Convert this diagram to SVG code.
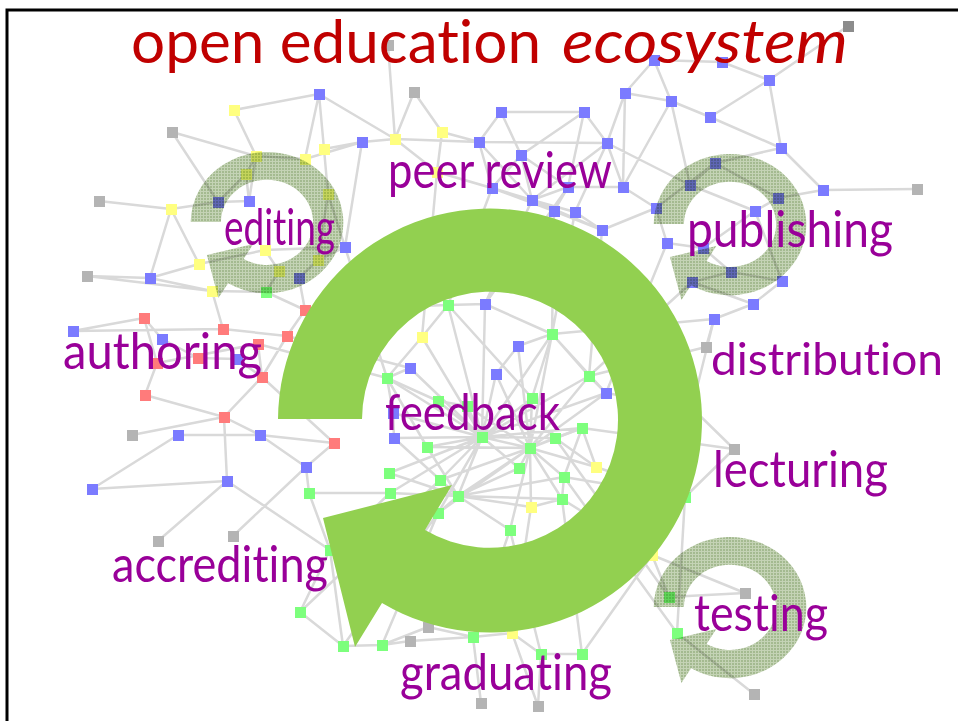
<svg xmlns="http://www.w3.org/2000/svg" width="958" height="721" viewBox="0 0 958 721">
<style>
.e{fill:none;stroke:#d9d9d9;stroke-width:2.5;stroke-linecap:round}
.g{fill:#b4b4b4}.gd{fill:#8c8c8c}.b{fill:#7b7bff}.y{fill:#ffff80}.r{fill:#ff7b7b}.n{fill:#7dff7d}
text{font-variant-ligatures:none;font-feature-settings:"liga" 0,"clig" 0}
.lbl{font-family:Lato,"DejaVu Sans",sans-serif;font-size:50px;fill:#990099}
.hatch{fill:url(#hp);mix-blend-mode:multiply}
</style>
<defs>
<pattern id="hp" width="3" height="3" patternUnits="userSpaceOnUse">
<rect width="3" height="3" fill="#c4d3b5"/>
<rect width="2" height="2" fill="#a4ba90"/>
</pattern>
</defs>
<rect width="958" height="721" fill="#fff"/>
<g id="connectors">
<path class="e" d="M172 132L256 156M172 132L218 202M234 110L256 156M234 110L319 94M319 94L324 149M319 94L305 159M319 94L395 139M256 156L305 159M256 156L246 174M256 156L249 201M305 159L362 142M324 149L362 142M324 149L328 194M362 142L395 139M395 139L479 142M479 142L607 143M388 45L395 139M414 92L442 132M414 92L395 139M442 132L437 172M442 132L479 142M501 112L584 112M501 112L479 142M584 112L607 143M584 112L521 155"/>
<path class="e" d="M625 93L671 101M625 93L623 187M671 101L623 187M654 60L625 93M654 60L671 101M654 60L722 62M722 62L769 80M769 80L781 148M671 101L710 117M710 117L781 148M769 80L710 117M848 26L769 80M607 143L623 187M623 187L656 208M623 187L568 187M521 155L492 188M521 155L532 200M492 188L532 200M568 187L532 200M568 187L554 211M532 200L575 212M554 211L602 230M575 212L602 230M607 143L690 185M690 185L715 163M715 163L781 148M781 148L823 190M823 190L917 189M823 190L778 198M778 198L755 211M715 163L656 208M656 208L667 243M667 243L703 248M755 211L703 248M703 248L731 272M731 272L782 281M731 272L692 282M692 282L753 304M782 281L753 304M753 304L714 319M714 319L706 347M755 211L782 281M671 101L690 185M479 142L492 188M437 172L492 188M362 142L345 247M395 139L437 172M584 112L568 187M607 143L575 212M625 93L607 143M501 112L521 155M690 185L755 211M656 208L602 230M715 163L778 198M492 188L554 211M532 200L602 230M521 155L568 187M479 142L532 200M437 172L532 200M607 143L532 200"/>
<path class="e" d="M99 201L171 209M171 209L218 202M218 202L249 201M249 201L246 174M171 209L199 264M87 276L150 278M150 278L199 264M150 278L212 291M199 264L265 250M265 250L345 247M265 250L279 271M279 271L266 292M318 260L299 278M318 260L328 194M345 247L328 194M345 247L318 260M212 291L266 292M212 291L223 329M266 292L305 310M299 278L305 310M73 331L223 329M223 329L287 336M144 318L157 363M144 318L162 339M162 339L198 358M157 363L145 395M157 363L258 344M198 358L237 359M237 359L262 377M258 344L262 377M262 377L224 417M145 395L224 417M132 435L224 417M178 435L260 435M260 435L224 417M260 435L334 443M224 417L227 481M227 481L92 489M92 489L178 435M227 481L158 541M233 536L306 467M227 481L330 550M287 336L305 310M287 336L262 377M262 377L334 443M334 443L306 467M306 467L309 493M306 467L260 435M309 493L390 493M309 493L330 550M73 331L144 318M87 276L212 291M150 278L171 209M246 174L218 202M305 310L448 305M287 336L410 368M258 344L387 378"/>
<path class="e" d="M482 437L448 305M482 437L485 304M482 437L422 337M482 437L410 368M482 437L387 378M482 437L438 401M482 437L467 406M482 437L532 398M482 437L496 374M482 437L427 447M482 437L389 473M482 437L440 480M482 437L390 493M482 437L458 496M482 437L438 513M482 437L519 468M482 437L530 448M482 437L555 438M482 437L589 376M482 437L552 334M482 437L393 413M482 437L394 438M482 437L606 393M482 437L582 428M530 448L552 334M530 448L518 346M530 448L496 374M530 448L589 376M530 448L606 393M530 448L582 428M530 448L555 438M530 448L564 477M530 448L562 499M530 448L596 467M530 448L531 507M530 448L510 530M530 448L519 468M530 448L532 398M530 448L467 406M530 448L440 480M530 448L458 496M530 448L438 513M530 448L427 447"/>
<path class="e" d="M458 496L389 473M458 496L390 493M458 496L427 447M458 496L438 513M458 496L510 530M458 496L519 468M458 496L564 477M458 496L562 499M458 496L531 507M458 496L440 480M458 496L394 438M387 378L410 368M387 378L393 413M387 378L438 401M387 378L422 337M387 378L427 447M448 305L485 304M448 305L422 337M485 304L552 334M552 334L518 346M518 346L496 374M393 413L394 438M589 376L606 393M589 376L552 334M438 401L467 406M532 398L552 334M448 305L532 398M552 334L606 393M582 428L564 477M564 477L562 499M562 499L531 507M596 467L582 428M596 467L555 438M555 438L582 428"/>
<path class="e" d="M552 334L714 319M589 376L706 347M606 393L692 408M582 428L734 449M596 467L685 497M562 499L652 555M564 477L685 497M510 530L473 637M438 513L382 645M438 513L343 646M390 493L330 550M440 480L300 612M531 507L512 633M510 530L541 654M562 499L582 654M652 555L669 597M652 555L745 593M685 497L677 633M685 497L734 449M492 188L448 305M532 200L485 304M554 211L552 334M602 230L589 376M437 172L422 337M568 187L485 304M575 212L552 334M345 247L387 378M692 282L589 376M667 243L606 393M714 319L692 408M692 408L734 449"/>
<path class="e" d="M300 612L343 646M343 646L382 645M300 612L330 550M330 550L343 646M382 645L410 641M428 627L473 637M473 637L512 633M512 633L541 654M541 654L582 654M481 703L473 637M538 706L541 654M677 633L754 694M669 597L745 593M564 477L677 633M555 438L669 597M382 645L428 627M410 641L473 637M512 633L538 706M582 654L652 555"/>
</g>
<g id="network-nodes">
<rect class="gd" x="843" y="21" width="11" height="11"/>
<rect class="g" x="383" y="40" width="11" height="11"/><rect class="g" x="167" y="127" width="11" height="11"/><rect class="g" x="409" y="87" width="11" height="11"/><rect class="g" x="94" y="196" width="11" height="11"/><rect class="g" x="82" y="271" width="11" height="11"/><rect class="g" x="912" y="184" width="11" height="11"/><rect class="g" x="701" y="342" width="11" height="11"/><rect class="g" x="729" y="444" width="11" height="11"/><rect class="g" x="127" y="430" width="11" height="11"/><rect class="g" x="153" y="536" width="11" height="11"/><rect class="g" x="228" y="531" width="11" height="11"/><rect class="g" x="423" y="622" width="11" height="11"/><rect class="g" x="405" y="636" width="11" height="11"/><rect class="g" x="476" y="698" width="11" height="11"/><rect class="g" x="533" y="701" width="11" height="11"/><rect class="g" x="740" y="588" width="11" height="11"/><rect class="g" x="749" y="689" width="11" height="11"/>
<rect class="b" x="649" y="55" width="11" height="11"/><rect class="b" x="717" y="57" width="11" height="11"/><rect class="b" x="764" y="75" width="11" height="11"/><rect class="b" x="314" y="89" width="11" height="11"/><rect class="b" x="496" y="107" width="11" height="11"/><rect class="b" x="579" y="107" width="11" height="11"/><rect class="b" x="620" y="88" width="11" height="11"/><rect class="b" x="666" y="96" width="11" height="11"/><rect class="b" x="357" y="137" width="11" height="11"/><rect class="b" x="474" y="137" width="11" height="11"/><rect class="b" x="602" y="138" width="11" height="11"/><rect class="b" x="516" y="150" width="11" height="11"/><rect class="b" x="487" y="183" width="11" height="11"/><rect class="b" x="563" y="182" width="11" height="11"/><rect class="b" x="527" y="195" width="11" height="11"/><rect class="b" x="618" y="182" width="11" height="11"/><rect class="b" x="549" y="206" width="11" height="11"/><rect class="b" x="570" y="207" width="11" height="11"/><rect class="b" x="685" y="180" width="11" height="11"/><rect class="b" x="651" y="203" width="11" height="11"/><rect class="b" x="776" y="143" width="11" height="11"/><rect class="b" x="710" y="158" width="11" height="11"/><rect class="b" x="818" y="185" width="11" height="11"/><rect class="b" x="773" y="193" width="11" height="11"/><rect class="b" x="750" y="206" width="11" height="11"/><rect class="b" x="662" y="238" width="11" height="11"/><rect class="b" x="698" y="243" width="11" height="11"/><rect class="b" x="726" y="267" width="11" height="11"/><rect class="b" x="687" y="277" width="11" height="11"/><rect class="b" x="777" y="276" width="11" height="11"/><rect class="b" x="748" y="299" width="11" height="11"/><rect class="b" x="597" y="225" width="11" height="11"/><rect class="b" x="213" y="197" width="11" height="11"/><rect class="b" x="244" y="196" width="11" height="11"/><rect class="b" x="340" y="242" width="11" height="11"/><rect class="b" x="294" y="273" width="11" height="11"/><rect class="b" x="145" y="273" width="11" height="11"/><rect class="b" x="68" y="326" width="11" height="11"/><rect class="b" x="157" y="334" width="11" height="11"/><rect class="b" x="232" y="354" width="11" height="11"/><rect class="b" x="173" y="430" width="11" height="11"/><rect class="b" x="255" y="430" width="11" height="11"/><rect class="b" x="222" y="476" width="11" height="11"/><rect class="b" x="87" y="484" width="11" height="11"/><rect class="b" x="301" y="462" width="11" height="11"/><rect class="b" x="480" y="299" width="11" height="11"/><rect class="b" x="513" y="341" width="11" height="11"/><rect class="b" x="405" y="363" width="11" height="11"/><rect class="b" x="491" y="369" width="11" height="11"/><rect class="b" x="601" y="388" width="11" height="11"/><rect class="b" x="709" y="314" width="11" height="11"/><rect class="b" x="388" y="408" width="11" height="11"/><rect class="b" x="389" y="433" width="11" height="11"/><rect class="b" x="705" y="112" width="11" height="11"/><rect class="b" x="687" y="403" width="11" height="11"/>
<rect class="y" x="229" y="105" width="11" height="11"/><rect class="y" x="319" y="144" width="11" height="11"/><rect class="y" x="390" y="134" width="11" height="11"/><rect class="y" x="437" y="127" width="11" height="11"/><rect class="y" x="300" y="154" width="11" height="11"/><rect class="y" x="432" y="167" width="11" height="11"/><rect class="y" x="251" y="151" width="11" height="11"/><rect class="y" x="241" y="169" width="11" height="11"/><rect class="y" x="323" y="189" width="11" height="11"/><rect class="y" x="166" y="204" width="11" height="11"/><rect class="y" x="260" y="245" width="11" height="11"/><rect class="y" x="313" y="255" width="11" height="11"/><rect class="y" x="194" y="259" width="11" height="11"/><rect class="y" x="274" y="266" width="11" height="11"/><rect class="y" x="207" y="286" width="11" height="11"/><rect class="y" x="417" y="332" width="11" height="11"/><rect class="y" x="526" y="502" width="11" height="11"/><rect class="y" x="591" y="462" width="11" height="11"/><rect class="y" x="647" y="550" width="11" height="11"/><rect class="y" x="507" y="628" width="11" height="11"/>
<rect class="r" x="300" y="305" width="11" height="11"/><rect class="r" x="282" y="331" width="11" height="11"/><rect class="r" x="139" y="313" width="11" height="11"/><rect class="r" x="218" y="324" width="11" height="11"/><rect class="r" x="253" y="339" width="11" height="11"/><rect class="r" x="152" y="358" width="11" height="11"/><rect class="r" x="193" y="353" width="11" height="11"/><rect class="r" x="257" y="372" width="11" height="11"/><rect class="r" x="140" y="390" width="11" height="11"/><rect class="r" x="219" y="412" width="11" height="11"/><rect class="r" x="329" y="438" width="11" height="11"/>
<rect class="n" x="261" y="287" width="11" height="11"/><rect class="n" x="443" y="300" width="11" height="11"/><rect class="n" x="547" y="329" width="11" height="11"/><rect class="n" x="382" y="373" width="11" height="11"/><rect class="n" x="584" y="371" width="11" height="11"/><rect class="n" x="433" y="396" width="11" height="11"/><rect class="n" x="462" y="401" width="11" height="11"/><rect class="n" x="527" y="393" width="11" height="11"/><rect class="n" x="477" y="432" width="11" height="11"/><rect class="n" x="550" y="433" width="11" height="11"/><rect class="n" x="577" y="423" width="11" height="11"/><rect class="n" x="422" y="442" width="11" height="11"/><rect class="n" x="525" y="443" width="11" height="11"/><rect class="n" x="514" y="463" width="11" height="11"/><rect class="n" x="384" y="468" width="11" height="11"/><rect class="n" x="435" y="475" width="11" height="11"/><rect class="n" x="559" y="472" width="11" height="11"/><rect class="n" x="304" y="488" width="11" height="11"/><rect class="n" x="385" y="488" width="11" height="11"/><rect class="n" x="453" y="491" width="11" height="11"/><rect class="n" x="557" y="494" width="11" height="11"/><rect class="n" x="433" y="508" width="11" height="11"/><rect class="n" x="505" y="525" width="11" height="11"/><rect class="n" x="680" y="492" width="11" height="11"/><rect class="n" x="664" y="592" width="11" height="11"/><rect class="n" x="295" y="607" width="11" height="11"/><rect class="n" x="468" y="632" width="11" height="11"/><rect class="n" x="338" y="641" width="11" height="11"/><rect class="n" x="377" y="640" width="11" height="11"/><rect class="n" x="672" y="628" width="11" height="11"/><rect class="n" x="325" y="545" width="11" height="11"/><rect class="n" x="536" y="649" width="11" height="11"/><rect class="n" x="577" y="649" width="11" height="11"/>
</g>
<g id="cycle-editing"><path class="hatch" d="M190.7 222A76.3 70.6 0 1 1 228.1 283.3L218.4 297.9L206.9 255L253.3 244L243.6 259A46.1 42.6 0 1 0 220.9 222Z"/></g>
<g id="cycle-publishing"><path class="hatch" d="M653.7 224A76.3 70.6 0 1 1 691.1 285.3L681.4 299.9L669.9 257L716.3 246L706.6 261A46.1 42.6 0 1 0 683.9 224Z"/></g>
<g id="cycle-testing"><path class="hatch" d="M653.7 607A76.3 70.6 0 1 1 691.1 668.3L681.4 682.9L669.9 640L716.3 629L706.6 644A46.1 42.6 0 1 0 683.9 607Z"/></g>
<g id="cycle-main"><path fill="#92d050" d="M278 419A212 212 0 1 1 382 603L355 647L323 518L452 485L425 530A128 128 0 1 0 362 419Z"/></g>
<path d="M7 721V10H958" fill="none" stroke="#000" stroke-width="3"/>
<g id="title">
<text x="131" y="63" font-family="Lato,'DejaVu Sans',sans-serif" font-size="60" fill="#c00000" textLength="410" lengthAdjust="spacingAndGlyphs">open education</text>
<text x="562" y="63" font-family="Lato,'DejaVu Sans',sans-serif" font-size="60" font-style="italic" fill="#c00000" textLength="286" lengthAdjust="spacingAndGlyphs">ecosystem</text>
</g>
<g id="label-peer-review"><text class="lbl" x="388" y="188" textLength="224" lengthAdjust="spacingAndGlyphs">peer review</text></g>
<g id="label-editing"><text class="lbl" x="224" y="245" textLength="111" lengthAdjust="spacingAndGlyphs">editing</text></g>
<g id="label-publishing"><text class="lbl" x="687" y="247" textLength="206" lengthAdjust="spacingAndGlyphs">publishing</text></g>
<g id="label-authoring"><text class="lbl" x="63" y="369" textLength="199" lengthAdjust="spacingAndGlyphs">authoring</text></g>
<g id="label-distribution"><text class="lbl" x="711" y="375" style="font-size:44px" textLength="232" lengthAdjust="spacingAndGlyphs">distribution</text></g>
<g id="label-feedback"><text class="lbl" x="385" y="430" textLength="175" lengthAdjust="spacingAndGlyphs">feedback</text></g>
<g id="label-lecturing"><text class="lbl" x="713" y="487" textLength="175" lengthAdjust="spacingAndGlyphs">lecturing</text></g>
<g id="label-accrediting"><text class="lbl" x="112" y="582" textLength="216" lengthAdjust="spacingAndGlyphs">accrediting</text></g>
<g id="label-testing"><text class="lbl" x="694" y="631" textLength="134" lengthAdjust="spacingAndGlyphs">testing</text></g>
<g id="label-graduating"><text class="lbl" x="400" y="690" textLength="212" lengthAdjust="spacingAndGlyphs">graduating</text></g>
</svg>
